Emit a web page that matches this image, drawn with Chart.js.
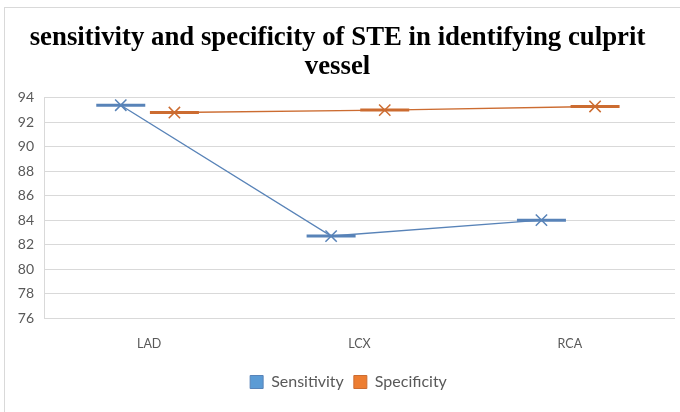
<!DOCTYPE html>
<html>
<head>
<meta charset="utf-8">
<script src="https://cdn.jsdelivr.net/npm/chart.js@4"></script>
<style>
  html, body { margin: 0; padding: 0; background: #fff; }
  #wrap { width: 680px; height: 412px; position: relative; }
</style>
</head>
<body>
<div id="wrap"><canvas id="chart" width="680" height="412"></canvas></div>
<script>
// chart data
const categories = ["LAD", "LCX", "RCA"];
const sensitivity = [93.4, 82.7, 84.0];
const specificity = [92.8, 93.0, 93.3];
const yTicks = [76, 78, 80, 82, 84, 86, 88, 90, 92, 94];

const blueLine = "#5883b8";
const orangeLine = "#cc6c31";

// points sit a little left / right of the category centre, like the original
const toPoints = (vals, shift) => vals.map((v, i) => ({ x: i + shift, y: v }));

// thin frame round the chart, white background
const framePlugin = {
    id: "frame",
    beforeDraw(chart) {
        const ctx = chart.ctx;
        ctx.save();
        ctx.fillStyle = "#fff";
        ctx.fillRect(0, 0, chart.width, chart.height);
        ctx.strokeStyle = "#d9d9d9";
        ctx.lineWidth = 1;
        ctx.strokeRect(4.5, 7.5, 760, 480);
        ctx.restore();
    },
    // legend of the original is centred a bit to the right
    afterLayout(chart) {
        const lg = chart.legend;
        lg.left += 11;
        lg.right += 11;
        lg.adjustHitBoxes();
    }
};

const chart = new Chart(document.getElementById("chart"), {
    type: "line",
    data: {
        datasets: [
            {
                label: "Sensitivity",
                data: toPoints(sensitivity, -0.135),
                borderColor: blueLine,
                backgroundColor: "#5b9bd5",
                borderWidth: 1.4,
                pointStyle: "crossRot",
                pointRadius: 8,
                pointBorderWidth: 1.5,
                pointBorderColor: blueLine,
                order: 1
            },
            {
                label: "",
                data: toPoints(sensitivity, -0.135),
                showLine: false,
                borderColor: blueLine,
                pointStyle: "line",
                pointRadius: 24.5,
                pointBorderWidth: 3,
                pointBorderColor: blueLine,
                order: 3
            },
            {
                label: "Specificity",
                data: toPoints(specificity, 0.12),
                borderColor: orangeLine,
                backgroundColor: "#ed7d31",
                borderWidth: 1.4,
                pointStyle: "crossRot",
                pointRadius: 8,
                pointBorderWidth: 1.5,
                pointBorderColor: orangeLine,
                order: 2
            },
            {
                label: "",
                data: toPoints(specificity, 0.12),
                showLine: false,
                borderColor: orangeLine,
                pointStyle: "line",
                pointRadius: 24.5,
                pointBorderWidth: 3,
                pointBorderColor: orangeLine,
                order: 4
            }
        ]
    },
    options: {
        responsive: false,
        animation: false,
        layout: { autoPadding: false, padding: { left: 0, right: 5, top: 0, bottom: 12 } },
        scales: {
            x: {
                type: "linear",
                min: -0.5,
                max: 2.5,
                afterFit(scale) {
                    scale.height = 46;
                    scale.paddingLeft = 0;
                    scale.paddingRight = 0;
                },
                afterBuildTicks(scale) { scale.ticks = categories.map((c, i) => ({ value: i })); },
                grid: { display: false },
                border: { display: false },
                ticks: {
                    autoSkip: false,
                    maxRotation: 0,
                    padding: 10,
                    color: "#595959",
                    font: { family: "Lato", size: 12.5 },
                    callback: (v) => categories[v]
                }
            },
            y: {
                min: yTicks[0],
                max: yTicks[yTicks.length - 1],
                afterFit(scale) { scale.width = 44; },
                afterBuildTicks(scale) { scale.ticks = yTicks.map(v => ({ value: v })); },
                grid: { color: "#d9d9d9", lineWidth: 1, drawTicks: false },
                border: { display: true, color: "#d9d9d9" },
                ticks: {
                    padding: 10,
                    color: "#595959",
                    font: { family: "Lato", size: 14 }
                }
            }
        },
        plugins: {
            title: {
                display: true,
                text: ["sensitivity and specificity of STE in identifying culprit", "vessel"],
                color: "#000",
                font: { family: "Liberation Serif", size: 26.8, weight: "bold", lineHeight: 1.08 },
                padding: { top: 24, bottom: 16 }
            },
            legend: {
                position: "bottom",
                labels: {
                    boxWidth: 13,
                    boxHeight: 13,
                    padding: 10,
                    color: "#595959",
                    font: { family: "Lato", size: 16 },
                    generateLabels: (c) => Chart.defaults.plugins.legend.labels.generateLabels(c)
                        .filter(l => l.text !== "")
                        .map(l => ({ ...l, lineWidth: 1 }))
                }
            },
            tooltip: { enabled: false }
        }
    },
    plugins: [framePlugin]
});
</script>
</body>
</html>
